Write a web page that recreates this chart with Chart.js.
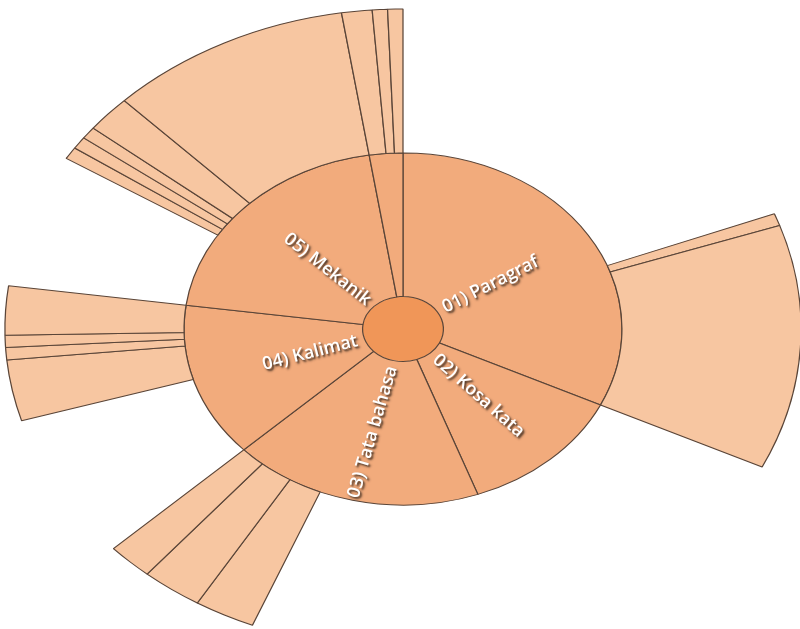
<!DOCTYPE html>
<html>
<head>
<meta charset="utf-8">
<script src="https://cdn.jsdelivr.net/npm/chart.js@4/dist/chart.umd.min.js"></script>
<style>
  html, body { margin: 0; padding: 0; background: #ffffff; }
  #wrap { width: 800px; height: 629px; }
</style>
</head>
<body>
<div id="wrap"><canvas id="sunburst" width="800" height="629"></canvas></div>
<script>
// Level 1: error categories (the last one carries no printed name)
const categories = ['01) Paragraf', '02) Kosa kata', '03) Tata bahasa', '04) Kalimat', '05) Mekanik', ''];
// Items counted directly on the category (no sub-category)
const directCounts = [31, 20, 19, 12, 11, 0];
// Level 2: sub-category counts inside each category, clockwise
const subCounts = [
  [1, 20],
  [],
  [4, 4, 3],
  [5, 1, 1, 4],
  [1, 1, 1, 3, 16],
  [2, 1, 1]
];

const COLOR_ROOT = '#F09658';
const COLOR_L1 = '#F2AB7C';
const COLOR_L2 = '#F7C6A1';
const EDGE = '#5a4538';
const SX = 1.244; // horizontal stretch of the whole sunburst

const categoryTotals = categories.map((_, i) =>
  directCounts[i] + subCounts[i].reduce((a, b) => a + b, 0));

// Outer ring: direct counts become empty (unfilled) spans, sub-categories are drawn
const outerValues = [];
const outerGap = [];
categories.forEach((_, i) => {
  if (directCounts[i] > 0) { outerValues.push(directCounts[i]); outerGap.push(true); }
  subCounts[i].forEach(v => { outerValues.push(v); outerGap.push(false); });
});
const grandTotal = categoryTotals.reduce((a, b) => a + b, 0);

const ellipse = {
  id: 'ellipse',
  beforeDatasetsDraw(chart) {
    const { ctx, chartArea: a } = chart;
    const cx = (a.left + a.right) / 2, cy = (a.top + a.bottom) / 2;
    ctx.save();
    ctx.translate(cx, cy);
    ctx.scale(SX, 1);
    ctx.translate(-cx, -cy);
  },
  afterDatasetsDraw(chart) {
    const ctx = chart.ctx;
    ctx.restore();
    const meta = chart.getDatasetMeta(1);
    ctx.save();
    ctx.font = '600 18px "Open Sans"';
    ctx.fillStyle = '#ffffff';
    ctx.shadowColor = 'rgba(40,28,20,0.9)';
    ctx.shadowOffsetX = 1.8;
    ctx.shadowOffsetY = 1.8;
    ctx.shadowBlur = 2.2;
    meta.data.forEach((arc, i) => {
      const text = categories[i];
      if (!text) return;
      const p = arc.getProps(['x', 'y', 'startAngle', 'endAngle', 'innerRadius'], true);
      const mid = (p.startAngle + p.endAngle) / 2;
      const r = p.innerRadius + 6;
      const px = p.x + SX * r * Math.cos(mid);
      const py = p.y + r * Math.sin(mid);
      let rot = Math.atan2(Math.sin(mid), SX * Math.cos(mid));
      let align = 'left';
      if (Math.cos(mid) < 0) { rot += Math.PI; align = 'right'; }
      ctx.save();
      ctx.translate(px, py);
      ctx.rotate(rot);
      ctx.textAlign = align;
      ctx.textBaseline = 'middle';
      ctx.fillText(text, 0, 0);
      ctx.restore();
    });
    ctx.restore();
  }
};

new Chart(document.getElementById('sunburst'), {
  type: 'doughnut',
  data: {
    labels: outerValues.map((_, i) => String(i)),
    datasets: [
      {
        data: outerValues,
        weight: 144,
        clip: false,
        backgroundColor: outerGap.map(g => g ? 'rgba(0,0,0,0)' : COLOR_L2),
        borderColor: EDGE,
        borderWidth: outerGap.map(g => g ? 0 : 1)
      },
      {
        data: categoryTotals,
        weight: 143.5,
        clip: false,
        backgroundColor: COLOR_L1,
        borderColor: EDGE,
        borderWidth: 1
      },
      {
        // centre disc; its outline comes from the inner edge of the ring around it
        data: [grandTotal],
        weight: 32.5,
        clip: false,
        backgroundColor: COLOR_ROOT,
        borderWidth: 0
      }
    ]
  },
  options: {
    responsive: false,
    animation: false,
    events: [],
    cutout: 0,
    radius: 320,
    layout: { padding: { left: 6, right: 0, top: 29, bottom: 0 } },
    plugins: { legend: { display: false }, tooltip: { enabled: false } }
  },
  plugins: [ellipse]
});
</script>
</body>
</html>
